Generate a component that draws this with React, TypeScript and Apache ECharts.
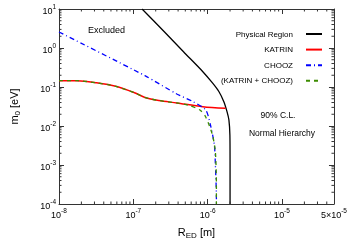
import React, { useEffect, useRef } from "react";
import * as echarts from "echarts";

const physicalR = [1.31e-7, 2.61e-7, 4.73e-7, 8.61e-7, 1.16e-6, 1.42e-6, 1.65e-6, 1.82e-6, 1.93e-6, 1.99e-6, 2.0e-6, 2.0e-6];
const physicalM = [10, 2.62, 0.8, 0.247, 0.127, 0.0757, 0.042, 0.0233, 0.0143, 0.0059, 0.00135, 1e-4];

const katrinR = [1e-8, 1.76e-8, 3.2e-8, 5.8e-8, 1.06e-7, 1.43e-7, 2.2e-7, 3.84e-7, 8.6e-7, 1.74e-6];
const katrinM = [0.145, 0.145, 0.128, 0.104, 0.07, 0.054, 0.045, 0.039, 0.0313, 0.0284];

const choozR = [1e-8, 1.43e-7, 3.84e-7, 6.38e-7, 9.42e-7, 1.09e-6, 1.23e-6, 1.27e-6, 1.31e-6, 1.31e-6];
const choozM = [2.57, 0.195, 0.0662, 0.042, 0.0257, 0.0106, 0.00326, 0.001, 1.43e-4, 1e-4];

const comboR = [1e-8, 1.76e-8, 3.2e-8, 5.8e-8, 1.06e-7, 1.43e-7, 2.2e-7, 3.84e-7, 5.5e-7, 7.87e-7, 9.42e-7, 1.16e-6, 1.27e-6, 1.31e-6, 1.31e-6];
const comboM = [0.145, 0.145, 0.128, 0.104, 0.07, 0.054, 0.045, 0.039, 0.034, 0.0257, 0.017, 0.0059, 0.00215, 3.07e-4, 1e-4];

const seriesNames = ["Physical Region", "KATRIN", "CHOOZ", "(KATRIN + CHOOZ)"];

const xMin = 1e-8;
const xMax = 5e-5;
const yMin = 1e-4;
const yMax = 10;
const xDecades = [-8, -7, -6, -5];
const yDecades = [-4, -3, -2, -1, 0];
const minorMultipliers = [2, 3, 4, 5, 6, 7, 8, 9];

const FONT = "Liberation Sans, Arial, sans-serif";

function zip(a: number[], b: number[]) {
  return a.map((v, i) => [v, b[i]]);
}

function fmt(v: number) {
  const e = Math.floor(Math.log10(v) + 1e-9);
  const m = Math.round(v / Math.pow(10, e));
  const base = m === 1 ? "10" : m + "×10";
  return `{b|${base}}{s|${e}}`;
}

const labelRich = {
  b: { fontSize: 9, fontFamily: FONT, color: "#000", verticalAlign: "bottom" as const },
  s: { fontSize: 6.5, fontFamily: FONT, color: "#000", verticalAlign: "bottom" as const, padding: [0, 0, 5, 0] },
};

export default function App() {
  const ref = useRef<HTMLDivElement>(null);
  useEffect(() => {
    if (!ref.current) return;
    const chart = echarts.init(ref.current, undefined, { renderer: "svg" });

    const tickData: number[][] = [];
    xDecades.forEach((e) =>
      minorMultipliers.forEach((k) => {
        const v = k * Math.pow(10, e);
        if (v < xMax * 0.999) tickData.push([v, yMin, 0]);
      })
    );
    yDecades.forEach((e) =>
      minorMultipliers.forEach((k) => {
        const v = k * Math.pow(10, e);
        if (v < yMax * 0.999) tickData.push([xMin, v, 1]);
      })
    );

    const axisCommon = {
      axisLine: { show: true, lineStyle: { color: "#333", width: 1 } },
      axisTick: { show: true, inside: true, length: 5, lineStyle: { color: "#333", width: 1 } },
      splitLine: { show: false },
      minorTick: { show: false },
    };

    const tickStyle = { stroke: "#333", lineWidth: 1 };

    chart.setOption({
      animation: false,
      grid: { left: 51, right: 14, top: 9, bottom: 41, containLabel: false },
      xAxis: [
        {
          type: "log",
          logBase: 10,
          min: xMin,
          max: xMax,
          position: "bottom",
          ...axisCommon,
          axisLabel: { margin: 3, formatter: (v: number) => fmt(v), rich: labelRich, showMaxLabel: true, showMinLabel: true },
          name: "{a|R}{sub|ED}{a| [m]}",
          nameLocation: "middle",
          nameGap: 22,
          nameTextStyle: {
            rich: {
              a: { fontSize: 11, fontFamily: FONT, color: "#000", verticalAlign: "top" as const },
              sub: { fontSize: 8, fontFamily: FONT, color: "#000", verticalAlign: "top" as const, padding: [5, 0, 0, 0] },
            },
          },
        },
        {
          type: "log",
          logBase: 10,
          min: xMin,
          max: xMax,
          position: "top",
          ...axisCommon,
          axisLabel: { show: false },
        },
      ],
      yAxis: [
        {
          type: "log",
          logBase: 10,
          min: yMin,
          max: yMax,
          position: "left",
          ...axisCommon,
          axisLabel: { margin: 3, formatter: (v: number) => fmt(v), rich: labelRich },
          name: "{a|m}{sub|0}{a| [eV]}",
          nameLocation: "middle",
          nameGap: 38,
          nameTextStyle: {
            rich: {
              a: { fontSize: 11, fontFamily: FONT, color: "#000", verticalAlign: "top" as const },
              sub: { fontSize: 8, fontFamily: FONT, color: "#000", verticalAlign: "top" as const, padding: [5, 0, 0, 0] },
            },
          },
        },
        {
          type: "log",
          logBase: 10,
          min: yMin,
          max: yMax,
          position: "right",
          ...axisCommon,
          axisLabel: { show: false },
        },
      ],
      legend: {
        data: seriesNames,
        orient: "vertical",
        right: 22,
        top: 25,
        align: "right",
        itemWidth: 16,
        itemHeight: 10,
        itemGap: 7.6,
        itemStyle: { opacity: 0 },
        textStyle: { fontSize: 8, fontFamily: FONT, color: "#000", padding: [0, 8, 0, 0] },
      },
      graphic: [
        { type: "text", left: 88, top: 25, style: { text: "Excluded", fontSize: 9, fontFamily: FONT, fill: "#000" } },
        { type: "text", x: 278, y: 115, style: { text: "90% C.L.", fontSize: 8.5, fontFamily: FONT, fill: "#000", align: "center", verticalAlign: "middle" } },
        { type: "text", x: 282, y: 133, style: { text: "Normal Hierarchy", fontSize: 8.5, fontFamily: FONT, fill: "#000", align: "center", verticalAlign: "middle" } },
      ],
      series: [
        {
          name: seriesNames[0],
          type: "line",
          data: zip(physicalR, physicalM),
          symbol: "none",
          smooth: 0.25,
          lineStyle: { color: "#000", width: 1.3 },
          itemStyle: { color: "#000" },
        },
        {
          name: seriesNames[1],
          type: "line",
          data: zip(katrinR, katrinM),
          symbol: "none",
          smooth: 0.3,
          lineStyle: { color: "#ff0000", width: 1.5 },
          itemStyle: { color: "#ff0000" },
        },
        {
          name: seriesNames[2],
          type: "line",
          data: zip(choozR, choozM),
          symbol: "none",
          smooth: 0.25,
          lineStyle: { color: "#0000ff", width: 1.3, type: [5, 3, 1, 3] },
          itemStyle: { color: "#0000ff" },
        },
        {
          name: seriesNames[3],
          type: "line",
          data: zip(comboR, comboM),
          symbol: "none",
          smooth: 0.25,
          lineStyle: { color: "#3c8c00", width: 1.3, type: [4, 4] },
          itemStyle: { color: "#3c8c00" },
        },
        {
          type: "custom",
          silent: true,
          clip: false,
          z: 5,
          data: tickData,
          encode: { x: 0, y: 1 },
          renderItem: (params: any, api: any) => {
            const kind = api.value(2);
            if (kind === 0) {
              const v = api.value(0);
              const b = api.coord([v, yMin]);
              const t = api.coord([v, yMax]);
              return {
                type: "group",
                children: [
                  { type: "line", shape: { x1: b[0], y1: b[1], x2: b[0], y2: b[1] - 2.5 }, style: tickStyle },
                  { type: "line", shape: { x1: t[0], y1: t[1], x2: t[0], y2: t[1] + 2.5 }, style: tickStyle },
                ],
              };
            }
            const v = api.value(1);
            const l = api.coord([xMin, v]);
            const r = api.coord([xMax, v]);
            return {
              type: "group",
              children: [
                { type: "line", shape: { x1: l[0], y1: l[1], x2: l[0] + 2.5, y2: l[1] }, style: tickStyle },
                { type: "line", shape: { x1: r[0], y1: r[1], x2: r[0] - 2.5, y2: r[1] }, style: tickStyle },
              ],
            };
          },
        },
      ],
    });
    return () => chart.dispose();
  }, []);
  return <div ref={ref} style={{ position: "fixed", left: 0, top: 0, width: 350, height: 245 }} />;
}
